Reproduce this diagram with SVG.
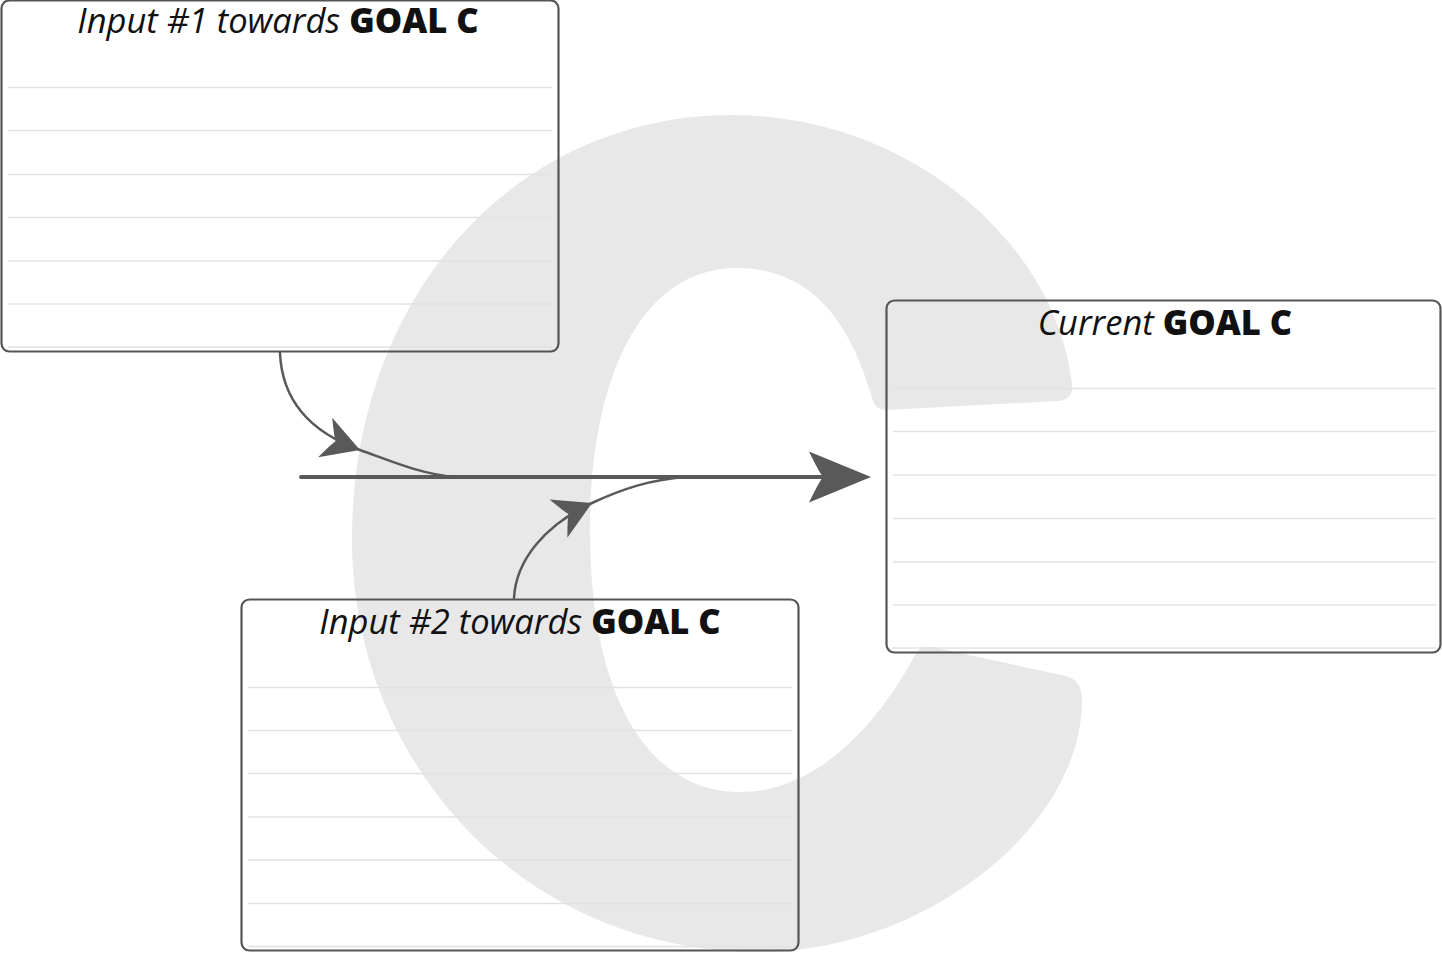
<svg xmlns="http://www.w3.org/2000/svg" width="1442" height="953" viewBox="0 0 1442 953">
<defs>
<style>
.box{fill:none;stroke:#555555;stroke-width:2.2}
.rule{stroke:#e2e2e2;stroke-width:1.5}
.title{font-family:"Open Sans","Liberation Sans",sans-serif;font-size:34.5px;fill:#111}
.it{font-style:italic;font-weight:500}
.bd{font-weight:800;font-style:normal}
.conn{fill:none;stroke:#595959;stroke-linecap:round}
</style>
<marker id="bigHead" markerUnits="userSpaceOnUse" markerWidth="70" markerHeight="60" viewBox="0 -30 70 60" refX="41" refY="0" orient="auto" overflow="visible">
<path d="M62,0 L0,-25.5 Q10,-5 14,0 Q10,5 0,25.5 Z" fill="#595959"/>
</marker>
<marker id="smallHead" markerUnits="userSpaceOnUse" markerWidth="50" markerHeight="50" viewBox="0 -25 50 50" refX="37" refY="0" orient="auto" overflow="visible">
<path d="M37,0 L0,-21 Q8,-4 11,0 Q8,4 0,21 Z" fill="#595959"/>
</marker>
</defs>
<rect width="1442" height="953" fill="#ffffff"/>
<path id="bigC" fill="#e8e8e8" d="M732,115 C900,115 1040,230 1068,360 L1072,383 Q1074,400 1058,401 L886,410 Q875,410 872,398 C850,320 810,268 737,268 C640,268 590,380 590,530 C590,700 650,792 740,792 C820,792 880,720 915,655 Q920,645 932,647 L1066,676 Q1082,680 1082,700 C1082,830 920,952 760,952 C520,952 352,760 352,540 C352,290 520,115 732,115 Z"/>
<g id="connectors">
<path class="conn" stroke-width="4" d="M301,477 H850" marker-end="url(#bigHead)"/>
<path class="conn" stroke-width="2.5" d="M280,353 C282,400 310,432 360,450 C391,461 420,474 455,477" marker-mid="url(#smallHead)"/>
<path class="conn" stroke-width="2.5" d="M514,598 C516,560 545,525 592,503 C620,490 650,479 688,477" marker-mid="url(#smallHead)"/>
</g>
<g id="input1">
<rect class="box" x="1.5" y="0.5" width="557" height="351" rx="8"/>
<g class="rule">
<line x1="8" y1="87.5" x2="552" y2="87.5"/><line x1="8" y1="130.5" x2="552" y2="130.5"/><line x1="8" y1="174.5" x2="552" y2="174.5"/><line x1="8" y1="217.5" x2="552" y2="217.5"/><line x1="8" y1="261" x2="552" y2="261"/><line x1="8" y1="304" x2="552" y2="304"/><line x1="8" y1="347" x2="552" y2="347"/>
</g>
<text class="title" x="278" y="33" text-anchor="middle"><tspan class="it">Input #1 towards </tspan><tspan class="bd">GOAL C</tspan></text>
</g>
<g id="input2">
<rect class="box" x="241.5" y="599.5" width="557" height="351" rx="8"/>
<g class="rule">
<line x1="248" y1="687.5" x2="792" y2="687.5"/><line x1="248" y1="730.5" x2="792" y2="730.5"/><line x1="248" y1="773.5" x2="792" y2="773.5"/><line x1="248" y1="817" x2="792" y2="817"/><line x1="248" y1="860" x2="792" y2="860"/><line x1="248" y1="903.5" x2="792" y2="903.5"/><line x1="248" y1="946.5" x2="792" y2="946.5"/>
</g>
<text class="title" x="520" y="634" text-anchor="middle"><tspan class="it">Input #2 towards </tspan><tspan class="bd">GOAL C</tspan></text>
</g>
<g id="goal">
<rect class="box" x="886.5" y="300.5" width="554" height="352" rx="8"/>
<g class="rule">
<line x1="893" y1="388.5" x2="1436" y2="388.5"/><line x1="893" y1="431.5" x2="1436" y2="431.5"/><line x1="893" y1="475" x2="1436" y2="475"/><line x1="893" y1="518.5" x2="1436" y2="518.5"/><line x1="893" y1="562" x2="1436" y2="562"/><line x1="893" y1="605" x2="1436" y2="605"/><line x1="893" y1="648" x2="1436" y2="648"/>
</g>
<text class="title" x="1165" y="335" text-anchor="middle"><tspan class="it">Current </tspan><tspan class="bd">GOAL C</tspan></text>
</g>
</svg>
